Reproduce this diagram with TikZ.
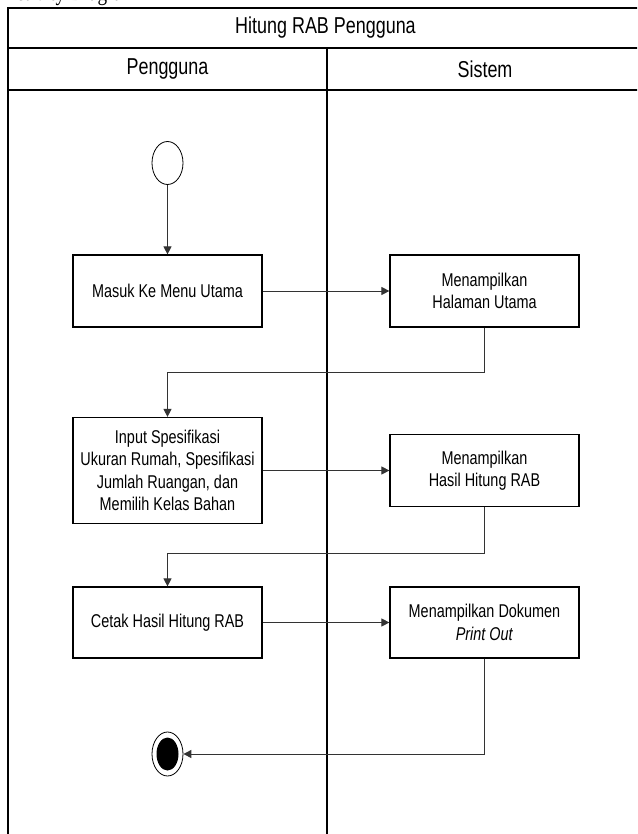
\documentclass[tikz,border=0pt]{standalone}
\usepackage{fontspec}
\setmainfont{Liberation Sans}[FakeStretch=0.78]
\newfontfamily\capfont{Liberation Serif}[FakeStretch=0.8]
\usetikzlibrary{arrows.meta,positioning,shapes.geometric}

\tikzset{
  lane/.style={line width=1.2pt},
  head/.style={font=\fontsize{23}{27}\selectfont},
  act/.style={draw, line width=1.2pt, minimum width=189pt, minimum height=72pt,
    align=center, inner sep=2pt, font=\fontsize{18.5}{22.5}\selectfont},
  flow/.style={draw=black!80, line width=1pt, -{Triangle[length=8pt,width=8pt]}},
  startnode/.style={draw, ellipse, line width=0.8pt, minimum width=31pt, minimum height=43pt, inner sep=0pt},
  stopnode/.style={draw, ellipse, line width=0.8pt, minimum width=31pt, minimum height=44pt, inner sep=0pt},
  stopdot/.style={fill, ellipse, minimum width=22pt, minimum height=33pt, inner sep=0pt}
}

\begin{document}
\begin{tikzpicture}[x=1pt,y=-1pt]
    \useasboundingbox (0,0) rectangle (637,834);
    \clip (0,0) rectangle (637,834);
    \fill[white] (0,0) rectangle (637,834);

    % caption cut off above the frame
    \node[anchor=base west, inner sep=0pt, font=\capfont\fontsize{24}{28}\selectfont] (cap) at (2,1) {Activity Diagram};

    % swimlanes
    \draw[lane] (8,850) -- (8,8) -- (643,8) -- (643,850);
    \draw[lane] (8,48) -- (643,48);
    \draw[lane] (8,90) -- (643,90);
    \draw[lane] (327,48) -- (327,850);
    \node[head] (title) at (325.5,28) {Hitung RAB Pengguna};
    \node[head] (lanea) at (167.5,69) {Pengguna};
    \node[head] (laneb) at (485,69) {Sistem};

    % activities
    \node[startnode] (start) at (167.5,163) {};
    \node[act] (masuk) at (167.5,291) {Masuk Ke Menu Utama};
    \node[act] (halaman) at (484.5,291) {Menampilkan\\Halaman Utama};
    \node[act, minimum height=106pt] (input) at (167.5,470.5)
      {Input Spesifikasi\\Ukuran Rumah, Spesifikasi\\Jumlah Ruangan, dan\\Memilih Kelas Bahan};
    \node[act] (hasil) at (484.5,470.5) {Menampilkan\\Hasil Hitung RAB};
    \node[act, minimum height=71pt] (cetak) at (167.5,622.5) {Cetak Hasil Hitung RAB};
    \node[act, minimum height=71pt] (dokumen) at (484.5,622.5) {Menampilkan Dokumen\\\textit{Print Out}};
    \node[stopnode] (stop) at (167.5,754) {};
    \node[stopdot] (stopin) at (stop.center) {};

    % flows
    \draw[flow] (start) -- (masuk);
    \draw[flow] (masuk) -- (halaman);
    \draw[flow] (halaman.south) -- ++(0,45) -| (input.north);
    \draw[flow] (input) -- (hasil);
    \draw[flow] (hasil.south) -- ++(0,46) -| (cetak.north);
    \draw[flow] (cetak) -- (dokumen);
    \draw[flow] (dokumen.south) |- (stop.east);
\end{tikzpicture}
\end{document}
